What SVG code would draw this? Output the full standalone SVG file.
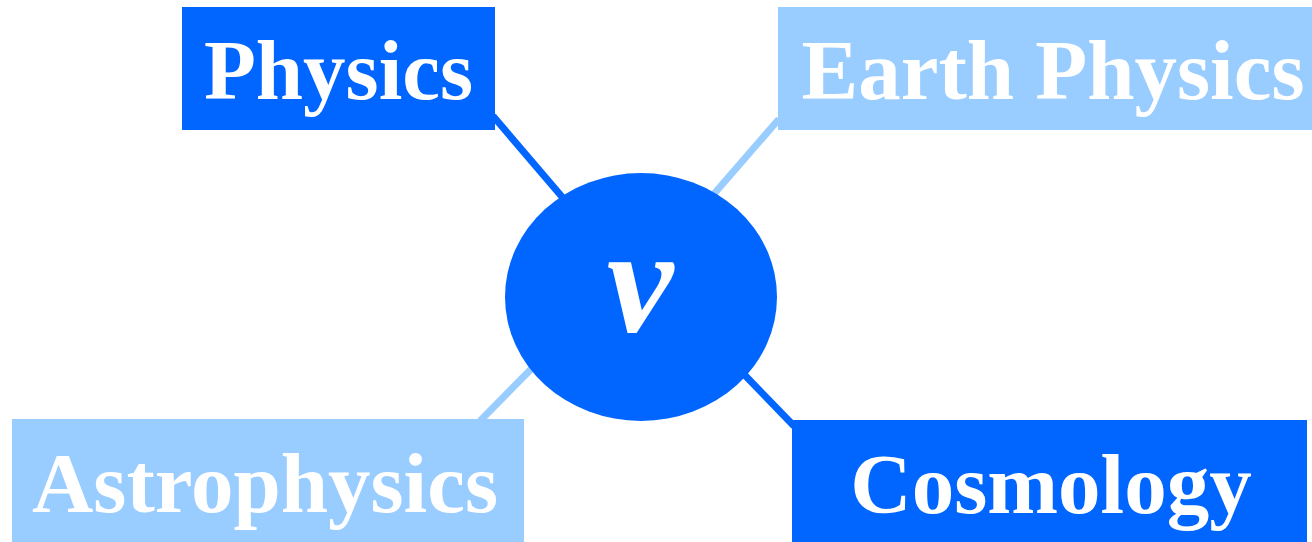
<svg xmlns="http://www.w3.org/2000/svg" width="1312" height="542" viewBox="0 0 1312 542">
<style>
.dark{fill:#0066FF}
.light{fill:#99CCFF}
.lbl{font-family:"Liberation Serif","Times New Roman",serif;font-weight:bold;font-size:85px;fill:#FFFFFF;text-anchor:middle}
.c-dark{stroke:#0066FF;stroke-width:7;fill:none}
.c-light{stroke:#99CCFF;stroke-width:7;fill:none}
</style>
<rect width="1312" height="542" fill="#FFFFFF"/>
<g id="connectors">
<line class="c-dark" x1="493" y1="116" x2="575" y2="212"/>
<line class="c-light" x1="779" y1="119" x2="700" y2="210"/>
<line class="c-light" x1="480" y1="421" x2="545" y2="355"/>
<line class="c-dark" x1="794" y1="426" x2="735" y2="365"/>
</g>
<g id="physics">
<rect class="dark" x="182" y="7" width="313" height="123"/>
<text class="lbl" x="338.5" y="99">Physics</text>
</g>
<g id="earth-physics">
<rect class="light" x="778" y="7" width="534" height="123"/>
<text class="lbl" x="1053" y="99">Earth Physics</text>
</g>
<g id="astrophysics">
<rect class="light" x="12" y="419" width="512" height="123"/>
<text class="lbl" x="265" y="512">Astrophysics</text>
</g>
<g id="cosmology">
<rect class="dark" x="792" y="420" width="515" height="122"/>
<text class="lbl" x="1051" y="513">Cosmology</text>
</g>
<g id="nu">
<ellipse class="dark" cx="641" cy="297" rx="136" ry="124"/>
<text x="640" y="332" style="font-family:'Liberation Serif','Times New Roman',serif;font-weight:bold;font-style:italic;font-size:150px;fill:#FFFFFF;text-anchor:middle">ν</text>
</g>
</svg>
